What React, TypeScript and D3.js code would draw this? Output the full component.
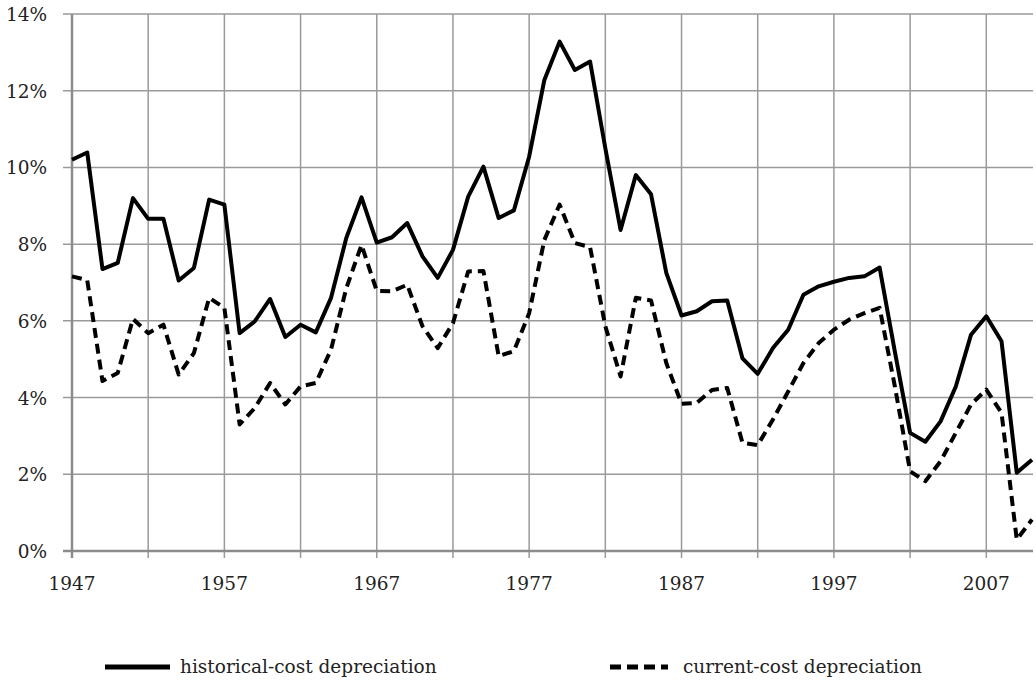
import React, { useRef, useEffect } from 'react';
import * as d3 from 'd3';

const startYear = 1947;
const endYear = 2010;

// historical-cost depreciation, percent, 1947-2010
const historical = [
  10.2, 10.39, 7.35, 7.51, 9.2, 8.66, 8.66, 7.05, 7.38, 9.16,
  9.03, 5.68, 5.99, 6.57, 5.58, 5.9, 5.7, 6.6, 8.16, 9.22,
  8.04, 8.18, 8.55, 7.68, 7.12, 7.85, 9.24, 10.02, 8.68, 8.88,
  10.28, 12.28, 13.28, 12.54, 12.76, 10.5, 8.37, 9.8, 9.3, 7.25,
  6.14, 6.25, 6.51, 6.53, 5.02, 4.62, 5.29, 5.77, 6.68, 6.9,
  7.02, 7.12, 7.16, 7.39, 5.2, 3.08, 2.85, 3.38, 4.29, 5.64,
  6.12, 5.47, 2.04, 2.38
];

// current-cost depreciation, percent, 1947-2010
const current = [
  7.16, 7.06, 4.43, 4.64, 6.05, 5.68, 5.9, 4.6, 5.16, 6.6,
  6.34, 3.3, 3.73, 4.38, 3.82, 4.29, 4.38, 5.25, 6.85, 7.98,
  6.78, 6.77, 6.94, 5.86, 5.29, 5.94, 7.29, 7.3, 5.08, 5.21,
  6.2, 8.11, 9.03, 8.03, 7.92, 5.86, 4.55, 6.6, 6.53, 4.9,
  3.84, 3.86, 4.2, 4.25, 2.82, 2.76, 3.43, 4.16, 4.9, 5.42,
  5.77, 6.03, 6.2, 6.34, 4.29, 2.08, 1.82, 2.34, 3.08, 3.82,
  4.21, 3.6, 0.3, 0.82
];

const yTicks = [0, 2, 4, 6, 8, 10, 12, 14];
const gridYears = d3.range(1947, 2010, 5);
const labelYears = [1947, 1957, 1967, 1977, 1987, 1997, 2007];

const seriesNames = ['historical-cost depreciation', 'current-cost depreciation'];

const W = 1036;
const H = 683;
const FONT = '"DejaVu Serif", "Liberation Serif", serif';

const App = () => {
  const svgRef = useRef(null);

  useEffect(() => {
    const svg = d3.select(svgRef.current);
    svg.selectAll('*').remove();

    const x = d3.scaleLinear().domain([startYear, endYear]).range([72, 1032]);
    const y = d3.scaleLinear().domain([0, 14]).range([551, 14]);
    const years = d3.range(startYear, endYear + 1);

    const grid = svg.append('g');

    // horizontal gridlines (extend left as y ticks)
    grid.selectAll('.hgrid')
      .data(yTicks.slice(1))
      .enter()
      .append('line')
      .attr('x1', 63)
      .attr('x2', 1033)
      .attr('y1', d => y(d))
      .attr('y2', d => y(d))
      .style('stroke', '#9a9a9a')
      .style('stroke-width', 1.5);

    // vertical gridlines
    grid.selectAll('.vgrid')
      .data(gridYears.slice(1))
      .enter()
      .append('line')
      .attr('x1', d => x(d))
      .attr('x2', d => x(d))
      .attr('y1', y(14))
      .attr('y2', y(0) + 7)
      .style('stroke', '#9a9a9a')
      .style('stroke-width', 1.5);

    // axes
    grid.append('line')
      .attr('x1', x(startYear))
      .attr('x2', x(startYear))
      .attr('y1', y(14))
      .attr('y2', y(0) + 7)
      .style('stroke', '#8c8c8c')
      .style('stroke-width', 2.5);

    grid.append('line')
      .attr('x1', 63)
      .attr('x2', 1033)
      .attr('y1', y(0))
      .attr('y2', y(0))
      .style('stroke', '#8c8c8c')
      .style('stroke-width', 2.5);

    // y labels
    svg.append('g').selectAll('text')
      .data(yTicks)
      .enter()
      .append('text')
      .attr('x', 47)
      .attr('y', d => y(d) + 7)
      .attr('text-anchor', 'end')
      .style('font-family', FONT)
      .style('font-size', '18.5px')
      .style('fill', '#222')
      .text(d => d + '%');

    // x labels
    svg.append('g').selectAll('text')
      .data(labelYears)
      .enter()
      .append('text')
      .attr('x', d => x(d))
      .attr('y', 590)
      .attr('text-anchor', 'middle')
      .style('font-family', FONT)
      .style('font-size', '18.5px')
      .style('fill', '#222')
      .text(d => d);

    const line = d3.line()
      .x((d, i) => x(years[i]))
      .y(d => y(d));

    svg.append('path')
      .datum(current)
      .attr('d', line)
      .style('fill', 'none')
      .style('stroke', '#000')
      .style('stroke-width', 4)
      .style('stroke-dasharray', '10,6')
      .style('stroke-linejoin', 'round');

    svg.append('path')
      .datum(historical)
      .attr('d', line)
      .style('fill', 'none')
      .style('stroke', '#000')
      .style('stroke-width', 4)
      .style('stroke-linejoin', 'round');

    // legend
    const legendItems = [
      { name: seriesNames[0], x1: 105, x2: 170, dash: null, tx: 180 },
      { name: seriesNames[1], x1: 610, x2: 668, dash: '11,6', tx: 683 }
    ];
    const legend = svg.append('g');
    legendItems.forEach(item => {
      legend.append('line')
        .attr('x1', item.x1)
        .attr('x2', item.x2)
        .attr('y1', 667)
        .attr('y2', 667)
        .style('stroke', '#000')
        .style('stroke-width', 5)
        .style('stroke-dasharray', item.dash);
      legend.append('text')
        .attr('x', item.tx)
        .attr('y', 673)
        .style('font-family', FONT)
        .style('font-size', '18.5px')
        .style('fill', '#222')
        .text(item.name);
    });
  }, []);

  return (
    <svg
      ref={svgRef}
      width={W}
      height={H}
      style={{ position: 'absolute', left: 0, top: 0, background: 'white' }}
    />
  );
};

export default App;
